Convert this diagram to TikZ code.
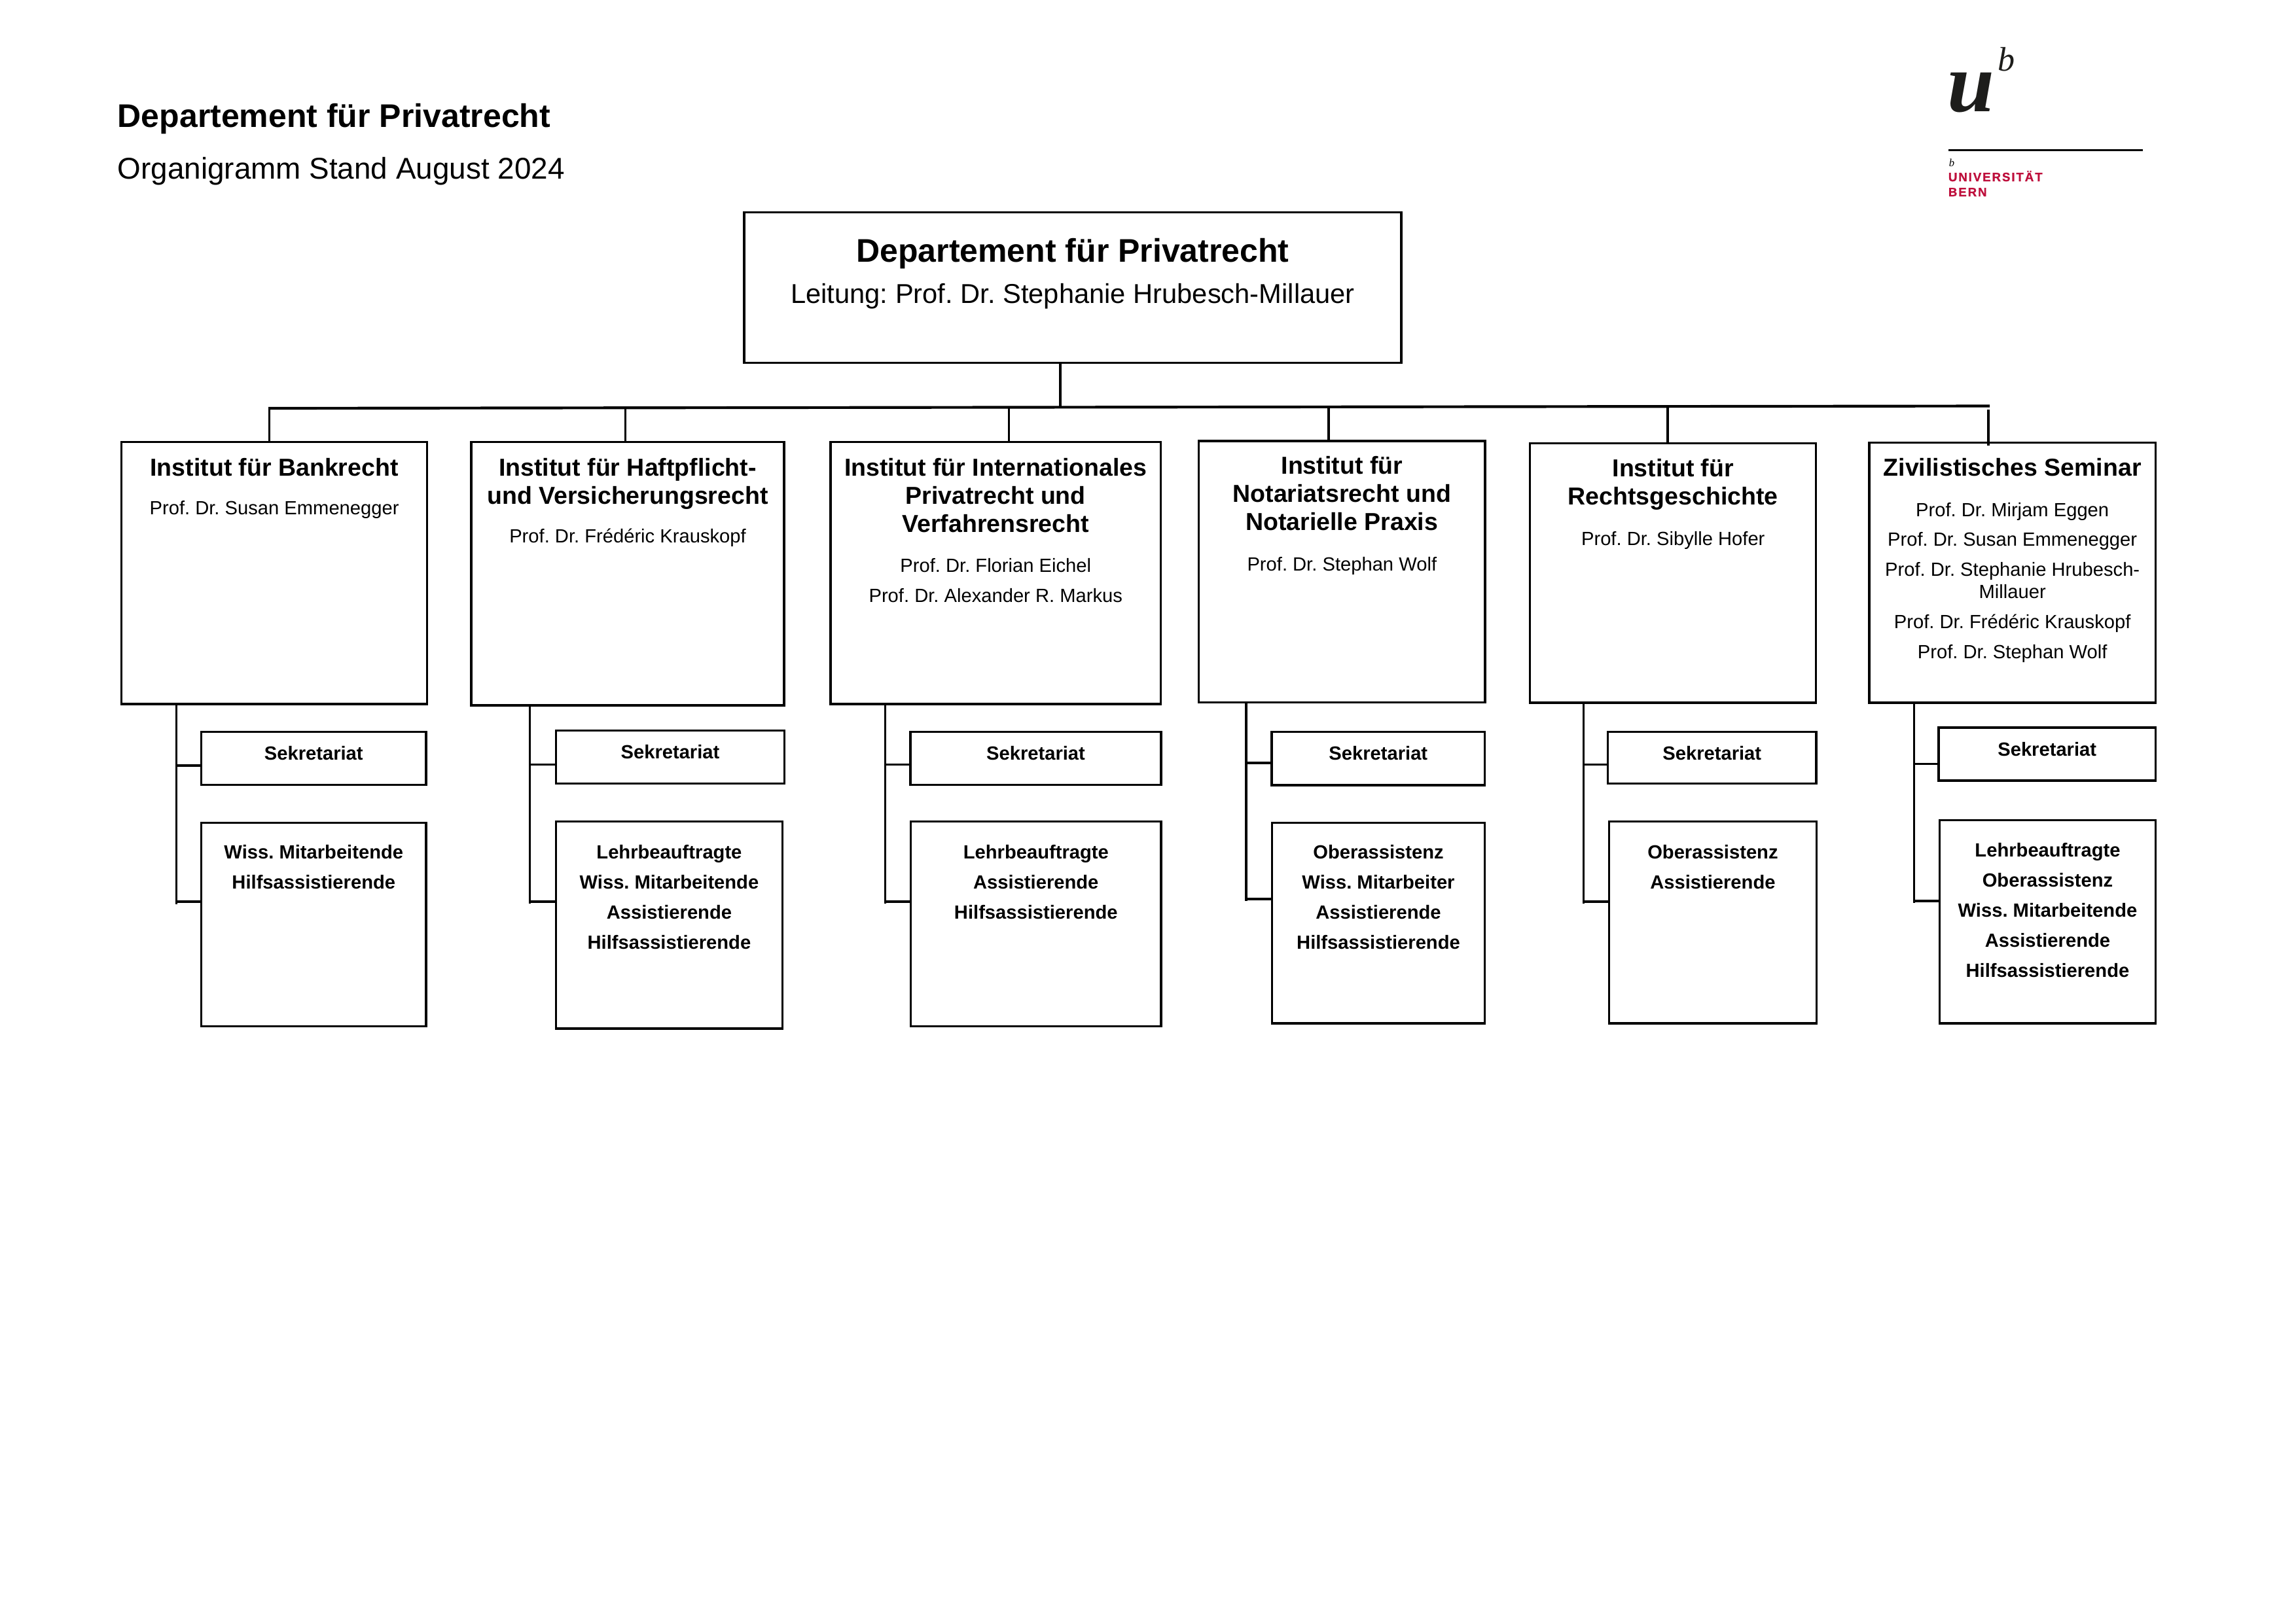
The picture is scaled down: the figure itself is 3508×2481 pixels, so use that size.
\documentclass[tikz,border=0pt]{standalone}
\usepackage{fontspec}
\setmainfont{Liberation Sans}
\newfontfamily\logoserif{Liberation Serif}
\newfontfamily\logosans[LetterSpace=10,BoldFeatures={FakeBold=1}]{Liberation Sans}
\AtBeginDocument{\frenchspacing}
\newdimen\pxu \pxu=0.24pt
\definecolor{unired}{HTML}{BE0F3C}
\definecolor{logoblack}{HTML}{1D1D1B}
\newcommand{\brk}[1]{\\[#1\pxu]}
\newcommand{\ftitle}{\fontsize{12}{0}\selectfont\bfseries}
\newcommand{\finst}{\fontsize{9}{0}\selectfont\bfseries}
\newcommand{\fprof}{\fontsize{7}{0}\selectfont\mdseries}
\newcommand{\fstaff}{\fontsize{7}{0}\selectfont\bfseries}
% name, x1, y1, x2, y2, first-baseline offset, content
\newcommand{\boxat}[7]{%
  \pgfmathsetlengthmacro\bw{(#4-#2)*0.24pt}%
  \pgfmathsetlengthmacro\bh{(#5-#3)*0.24pt}%
  \node[orgbox,minimum width=\bw,minimum height=\bh] (#1) at ({(#2+#4)/2},{(#3+#5)/2})
    {\parbox[c][\bh][t]{\bw}{\centering\lineskiplimit=-1000pt\relax\rule{0pt}{#6\pxu}#7\par}};%
}
\tikzset{
  orgbox/.style={draw=black,line width=0.75pt,inner sep=0pt,outer sep=0pt,rectangle,text=black},
  conn/.style={draw=black,line width=0.85pt},
  busline/.style={draw=black,line width=1pt},
  heading/.style={anchor=base west,inner sep=0pt,text=black},
  logotext/.style={anchor=base west,inner sep=0pt}
}
\begin{document}
\begin{tikzpicture}[x=0.24pt,y=-0.24pt]
\useasboundingbox (0,0) rectangle (3508,2481);
% headings
\node[heading,font=\fontsize{12}{14}\selectfont\bfseries] (head1) at (179,194) {Departement für Privatrecht};
\node[heading,font=\fontsize{11}{13}\selectfont] (head2) at (179,273) {Organigramm Stand August 2024};
% logo
\node[logotext,text=logoblack,font=\fontsize{31}{33}\logoserif\bfseries\itshape\selectfont] (logou) at (2975,170) {u};
\node[logotext,text=logoblack,font=\fontsize{12.5}{15}\logoserif\itshape\selectfont] (logob) at (3052,108) {b};
\coordinate (ruleL) at (2977,229.5);
\coordinate (ruleR) at (3274,229.5);
\draw[draw=black,line width=0.6pt] (ruleL) -- (ruleR);
\node[logotext,text=black,font=\fontsize{4}{5}\logoserif\itshape\selectfont] (logob2) at (2977,254) {b};
\node[logotext,text=unired,font=\fontsize{4.5}{5}\logosans\bfseries\selectfont] (logouni) at (2976,277) {UNIVERSITÄT};
\node[logotext,text=unired,font=\fontsize{4.5}{5}\logosans\bfseries\selectfont] (logobern) at (2976,300) {BERN};
% top box
\boxat{top}{1137}{324.6}{2141}{554.5}{75.4}{\ftitle Departement für Privatrecht\brk{63}\fontsize{10}{0}\selectfont\mdseries Leitung: Prof. Dr. Stephanie Hrubesch-Millauer}
% institutes
\boxat{b1}{185.7}{675.5}{652.5}{1076}{51.5}{\finst Institut für Bankrecht\brk{59.4}\fprof Prof. Dr. Susan Emmenegger}
\boxat{b2}{720}{675.5}{1198}{1078}{51.5}{\finst Institut für Haftpflicht-\brk{43}und Versicherungsrecht\brk{59.4}\fprof Prof. Dr. Frédéric Krauskopf}
\boxat{b3}{1269}{675.5}{1773.5}{1076}{51.5}{\finst Institut für Internationales\brk{43}Privatrecht und\brk{43}Verfahrensrecht\brk{61.5}\fprof Prof. Dr. Florian Eichel\brk{46}Prof. Dr. Alexander R. Markus}
\boxat{b4}{1831.6}{674}{2269}{1073.6}{50.8}{\finst Institut für\brk{43}Notariatsrecht und\brk{43}Notarielle Praxis\brk{61.5}\fprof Prof. Dr. Stephan Wolf}
\boxat{b5}{2337.8}{677.5}{2774.7}{1074}{51}{\finst Institut für\brk{43.4}Rechtsgeschichte\brk{61.6}\fprof Prof. Dr. Sibylle Hofer}
\boxat{b6}{2855.9}{676.4}{3293.4}{1074}{51}{\finst Zivilistisches Seminar\brk{62}\fprof Prof. Dr. Mirjam Eggen\brk{45.5}Prof. Dr. Susan Emmenegger\brk{46}Prof. Dr. Stephanie Hrubesch-\brk{33.8}Millauer\brk{46}Prof. Dr. Frédéric Krauskopf\brk{46}Prof. Dr. Stephan Wolf}
% secretariats
\boxat{s1}{307.6}{1118.4}{651}{1199.5}{42.7}{\fstaff Sekretariat}
\boxat{s2}{849.5}{1116.6}{1198.5}{1197.6}{42.4}{\fstaff Sekretariat}
\boxat{s3}{1391}{1118.4}{1774}{1199.5}{42.7}{\fstaff Sekretariat}
\boxat{s4}{1943}{1118.4}{2268.6}{1200}{42.7}{\fstaff Sekretariat}
\boxat{s5}{2456.5}{1118.4}{2775}{1197.6}{42.7}{\fstaff Sekretariat}
\boxat{s6}{2962}{1112}{3293.4}{1193}{43}{\fstaff Sekretariat}
% staff
\boxat{l1}{307.6}{1257.5}{651}{1568.3}{55.2}{\fstaff Wiss. Mitarbeitende\brk{46}Hilfsassistierende}
\boxat{l2}{849.5}{1255.3}{1195.4}{1572}{57}{\fstaff Lehrbeauftragte\brk{46}Wiss. Mitarbeitende\brk{46}Assistierende\brk{46}Hilfsassistierende}
\boxat{l3}{1391.6}{1255.3}{1774}{1568.3}{57}{\fstaff Lehrbeauftragte\brk{46}Assistierende\brk{46}Hilfsassistierende}
\boxat{l4}{1943.4}{1257.5}{2268.6}{1564}{55.2}{\fstaff Oberassistenz\brk{46}Wiss. Mitarbeiter\brk{46}Assistierende\brk{46}Hilfsassistierende}
\boxat{l5}{2458.4}{1255.3}{2775.4}{1564}{57}{\fstaff Oberassistenz\brk{46}Assistierende}
\boxat{l6}{2963.5}{1253.5}{3293.4}{1564}{56.2}{\fstaff Lehrbeauftragte\brk{46}Oberassistenz\brk{46}Wiss. Mitarbeitende\brk{46}Assistierende\brk{46}Hilfsassistierende}
% bus
\coordinate (busL) at (410,624);
\coordinate (busR) at (3040,620.5);
\draw[busline] (busL) -- (busR);
\coordinate (st0) at (1620,623);
\coordinate (st1) at (411.5,624);
\coordinate (st2) at (955.6,623.5);
\coordinate (st3) at (1541.6,623);
\coordinate (st4) at (2030,622.5);
\coordinate (st5) at (2548,621.5);
\coordinate (st6) at (3038,625.5);
\draw[conn] (top.south -| st0) -- (st0);
\draw[conn] (st1) -- (st1 |- b1.north);
\draw[conn] (st2) -- (st2 |- b2.north);
\draw[conn] (st3) -- (st3 |- b3.north);
\draw[conn] (st4) -- (st4 |- b4.north);
\draw[conn] (st5) -- (st5 |- b5.north);
\draw[conn] (st6) -- ([yshift=-1pt]st6 |- b6.north);
% spines and branches
\coordinate (sp1) at (269.4,1382);
\coordinate (j1a) at (269.4,1169.9);
\coordinate (j1b) at (269.4,1377.8);
\coordinate (sp2) at (809.7,1381);
\coordinate (j2a) at (809.7,1168.7);
\coordinate (j2b) at (809.7,1377.8);
\coordinate (sp3) at (1352.6,1381);
\coordinate (j3a) at (1352.6,1168.7);
\coordinate (j3b) at (1352.6,1377.8);
\coordinate (sp4) at (1904,1377.4);
\coordinate (j4a) at (1904,1165.8);
\coordinate (j4b) at (1904,1374);
\coordinate (sp5) at (2419.5,1381);
\coordinate (j5a) at (2419.5,1168.7);
\coordinate (j5b) at (2419.5,1377.8);
\coordinate (sp6) at (2924.6,1380.4);
\coordinate (j6a) at (2924.6,1167.6);
\coordinate (j6b) at (2924.6,1377);
\foreach \i in {1,...,6}{
  \draw[conn] (b\i.south -| sp\i) -- (sp\i);
  \draw[conn] (j\i a) -- (j\i a -| s\i.west);
  \draw[conn] (j\i b) -- (j\i b -| l\i.west);
}
\end{tikzpicture}
\end{document}
